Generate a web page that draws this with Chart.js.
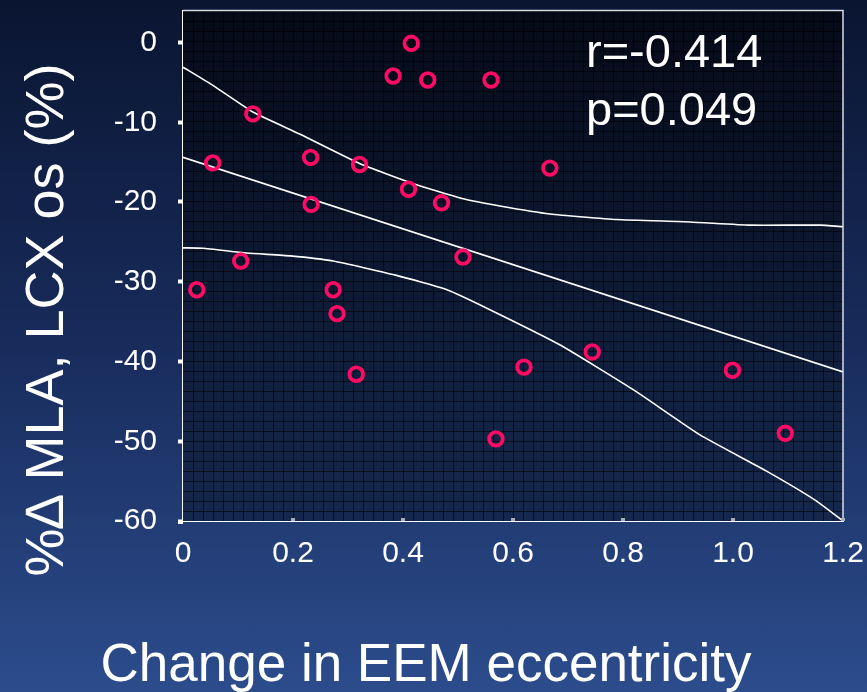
<!DOCTYPE html>
<html>
<head>
<meta charset="utf-8">
<script src="https://cdn.jsdelivr.net/npm/chart.js@4.4.1/dist/chart.umd.min.js"></script>
<style>
  html, body { margin: 0; padding: 0; }
  body { width: 867px; height: 692px; overflow: hidden;
         background: linear-gradient(to bottom, #0a1531 0%, #182c5c 50%, #2c4c8c 100%); }
  #wrap { position: relative; width: 867px; height: 692px; }
</style>
</head>
<body>
<div id="wrap"><canvas id="c" width="867" height="692"></canvas></div>
<script>
// ---- data ----
const pointX = [0.025, 0.054, 0.105, 0.127, 0.232, 0.233, 0.273, 0.28, 0.315, 0.321, 0.382, 0.415, 0.445, 0.41, 0.47, 0.509, 0.56, 0.569, 0.62, 0.667, 0.744, 0.999, 1.095];
const pointY = [-31, -15.1, -27.4, -8.95, -14.4, -20.3, -31, -34, -41.6, -15.3, -4.2, -0.1, -4.7, -18.4, -20.1, -26.9, -4.7, -49.7, -40.7, -15.75, -38.8, -41.1, -49];
const fitX = [0, 1.2];
const fitY = [-14.4, -41.3];
const upperX = [0, 0.055, 0.128, 0.213, 0.322, 0.419, 0.51, 0.576, 0.667, 0.788, 0.922, 1.031, 1.158, 1.2];
const upperY = [-3.1, -5.4, -8.75, -11.5, -15.2, -17.7, -19.6, -20.5, -21.5, -22.2, -22.5, -22.9, -22.9, -23.1];
const lowerX = [0, 0.036, 0.116, 0.195, 0.273, 0.388, 0.48, 0.558, 0.685, 0.818, 0.94, 1.061, 1.152, 1.2];
const lowerY = [-25.75, -25.8, -26.4, -26.75, -27.4, -29.2, -31, -33.5, -37.9, -43.5, -49.2, -53.75, -57.5, -60];
const xTicks = [0, 0.2, 0.4, 0.6, 0.8, 1.0, 1.2];
const xTickLabels = ['0', '0.2', '0.4', '0.6', '0.8', '1.0', '1.2'];
const yTicks = [0, -10, -20, -30, -40, -50, -60];
const xTitle = 'Change in EEM eccentricity';
const yTitle = '%\u2206 MLA, LCX os (%)';
const statLines = ['r=-0.414', 'p=0.049'];

const zip = (xs, ys) => xs.map((x, i) => ({ x, y: ys[i] }));
const FONT = '"Liberation Sans", Arial, sans-serif';
const noPad = s => { s.paddingTop = 0; s.paddingBottom = 0; s.paddingLeft = 0; s.paddingRight = 0; };

const decor = {
  id: 'decor',
  beforeDatasetsDraw(chart) {
    const { ctx, chartArea: a } = chart;
    ctx.save();
    const g = ctx.createLinearGradient(0, a.top, 0, a.bottom);
    g.addColorStop(0, '#050a17');
    g.addColorStop(1, '#15284d');
    ctx.fillStyle = g;
    ctx.fillRect(a.left, a.top, a.right - a.left, a.bottom - a.top);
    ctx.strokeStyle = 'rgba(0,0,0,0.6)';
    ctx.lineWidth = 1;
    ctx.beginPath();
    for (let x = a.left + 10; x < a.right; x += 10) {
      ctx.moveTo(x + 0.5, a.top); ctx.lineTo(x + 0.5, a.bottom);
    }
    for (let y = a.bottom - 10; y > a.top; y -= 10) {
      ctx.moveTo(a.left, y + 0.5); ctx.lineTo(a.right, y + 0.5);
    }
    ctx.stroke();
    ctx.restore();
  },
  afterDraw(chart) {
    const { ctx, chartArea: a } = chart;
    const xs = chart.scales.x;
    ctx.save();
    ctx.strokeStyle = '#d8dce6';
    ctx.lineWidth = 1.5;
    ctx.beginPath();
    ctx.moveTo(a.left, a.top); ctx.lineTo(a.right, a.top); ctx.lineTo(a.right, a.bottom);
    ctx.stroke();
    xTicks.forEach((v, i) => {
      const px = xs.getPixelForValue(v);
      ctx.fillStyle = i === 0 ? '#ffffff' : '#a8adb8';
      if (i === 0) ctx.fillRect(px - 5, a.bottom - 1, 5, 4);
      else ctx.fillRect(px - 2, a.bottom - 3, 4, 3);
    });
    ctx.fillStyle = '#ffffff';
    ctx.font = '47px ' + FONT;
    ctx.textAlign = 'left';
    ctx.textBaseline = 'alphabetic';
    ctx.fillText(statLines[0], 586, 67);
    ctx.fillText(statLines[1], 586, 125);
    ctx.font = '53px ' + FONT;
    ctx.textAlign = 'center';
    ctx.fillText(xTitle, 426, 681);
    ctx.translate(63, 320);
    ctx.rotate(-Math.PI / 2);
    ctx.font = '54px ' + FONT;
    ctx.fillText(yTitle, 0, 0);
    ctx.restore();
  }
};

new Chart(document.getElementById('c'), {
  type: 'scatter',
  data: {
    datasets: [
      { data: zip(pointX, pointY), pointRadius: 6.8, pointHoverRadius: 6.8, pointBorderWidth: 3.8,
        pointBorderColor: '#ff0a64', pointBackgroundColor: 'rgba(0,0,0,0)', showLine: false, order: 0 },
      { data: zip(fitX, fitY), showLine: true, borderColor: '#ffffff', borderWidth: 1.6, pointRadius: 0, order: 1 },
      { data: zip(upperX, upperY), showLine: true, borderColor: '#ffffff', borderWidth: 1.6, pointRadius: 0, tension: 0.15, order: 1 },
      { data: zip(lowerX, lowerY), showLine: true, borderColor: '#ffffff', borderWidth: 1.6, pointRadius: 0, tension: 0.15, order: 1 }
    ]
  },
  options: {
    responsive: false,
    animation: false,
    layout: { padding: { top: 8, right: 24, left: 0, bottom: 0 } },
    plugins: { legend: { display: false }, tooltip: { enabled: false } },
    scales: {
      x: {
        type: 'linear', min: 0, max: 1.2,
        afterBuildTicks: s => { s.ticks = xTicks.map(v => ({ value: v })); },
        afterFit: s => { s.height = 171; noPad(s); },
        grid: { display: true, drawOnChartArea: false, drawTicks: false },
        border: { display: true, color: '#ffffff', width: 2 },
        ticks: { color: '#ffffff', font: { family: FONT, size: 30 }, padding: 15, maxRotation: 0,
                 callback: (v, i) => xTickLabels[i] }
      },
      y: {
        type: 'linear', min: -60, max: 4,
        afterBuildTicks: s => { s.ticks = yTicks.map(v => ({ value: v })); },
        afterFit: s => { s.width = 183; noPad(s); },
        grid: { display: true, drawOnChartArea: false, drawTicks: true, tickLength: 5, tickWidth: 4, tickColor: '#ffffff' },
        border: { display: true, color: '#ffffff', width: 2 },
        ticks: { color: '#ffffff', font: { family: FONT, size: 30 }, padding: 21,
                 callback: v => String(v) }
      }
    }
  },
  plugins: [decor]
});
</script>
</body>
</html>
